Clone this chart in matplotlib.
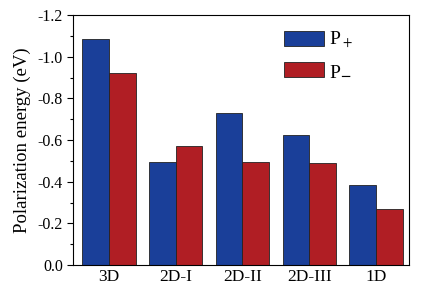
import matplotlib
matplotlib.use("Agg")
import matplotlib.pyplot as plt
import numpy as np

categories = ["3D", "2D-I", "2D-II", "2D-III", "1D"]
p_plus = [-1.087, -0.495, -0.728, -0.624, -0.385]
p_minus = [-0.922, -0.571, -0.493, -0.490, -0.270]

plt.rcParams["font.family"] = ["Liberation Serif", "DejaVu Serif"]
plt.rcParams["mathtext.fontset"] = "stix"

fig = plt.figure(figsize=(4.23, 2.92), dpi=100)
ax = fig.add_axes([73.3 / 423, 1 - 265 / 292, (409.3 - 73.3) / 423, (265 - 15) / 292])

x = np.arange(len(categories))
w = 0.4
ax.bar(x - w / 2, p_plus, w, color="#1a3f99", edgecolor="#222222", lw=0.6,
       label=r"P$_+$")
ax.bar(x + w / 2, p_minus, w, color="#b01e24", edgecolor="#222222", lw=0.6,
       label=r"P$_{\mathbf{-}}$")

ax.set_ylim(0, -1.2)
ax.set_xlim(-0.535, 4.5)
ticks = np.arange(0, -1.21, -0.2)
ax.set_yticks(ticks)
ax.set_yticklabels([f"{v:.1f}" if abs(v) > 1e-9 else "0.0" for v in ticks])
ax.set_yticks(np.arange(-0.1, -1.2, -0.2), minor=True)
ax.set_xticks(x)
ax.set_xticklabels(categories, fontsize=12.5)
ax.tick_params(axis="x", length=0, pad=3)
ax.tick_params(axis="y", which="major", length=4, labelsize=11.5, width=0.8)
ax.tick_params(axis="y", which="minor", length=2, width=0.8)
ax.set_ylabel("Polarization energy (eV)", fontsize=13.5, labelpad=5)
for s in ax.spines.values():
    s.set_linewidth(0.8)

ax.legend(loc="upper left", bbox_to_anchor=(0.627, 0.94), frameon=False,
          fontsize=14, handlelength=2.05, handleheight=0.82, handletextpad=0.25,
          labelspacing=0.55, borderaxespad=0, borderpad=0)

fig.savefig("out.png", dpi=100)
